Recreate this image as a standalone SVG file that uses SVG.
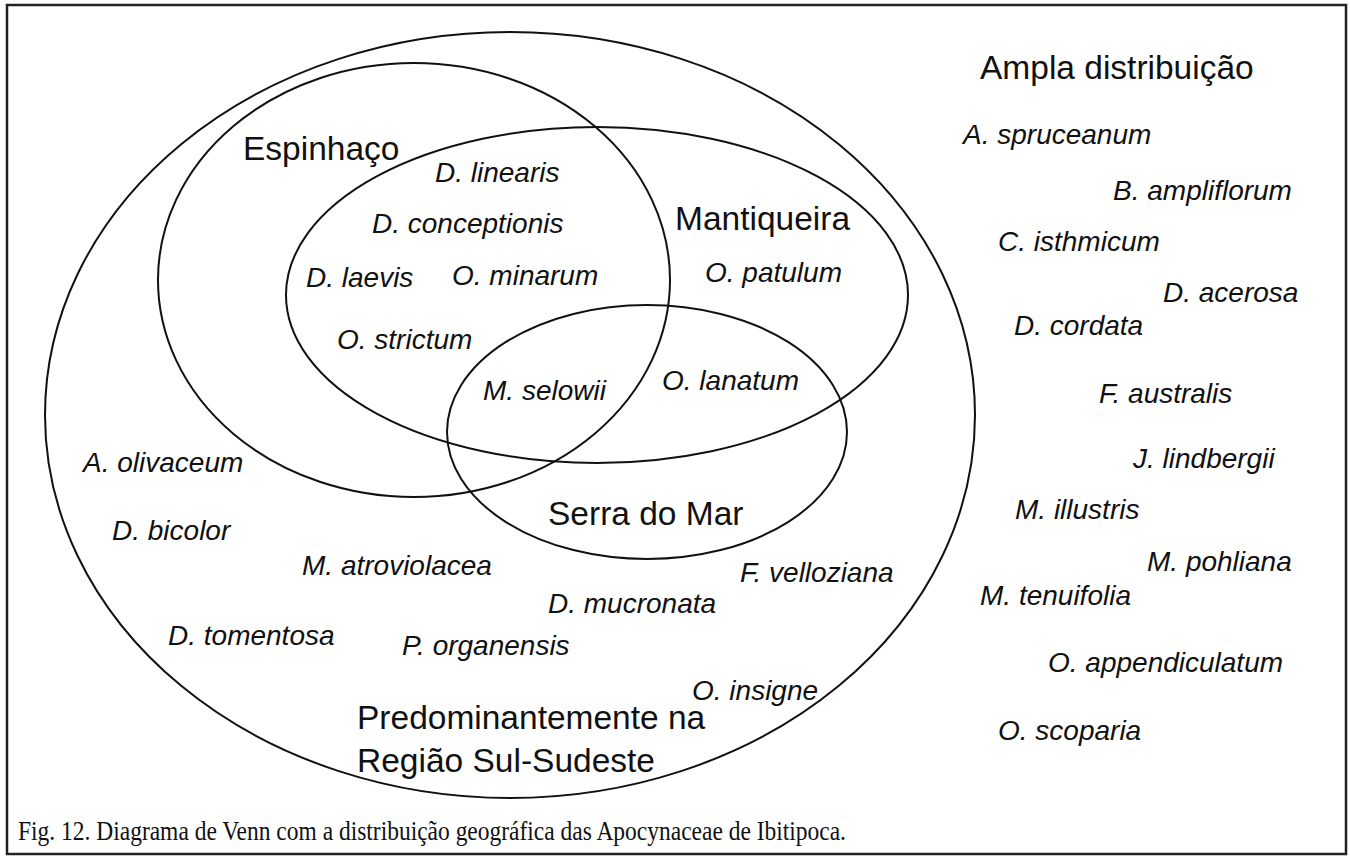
<svg xmlns="http://www.w3.org/2000/svg" width="1350" height="857" viewBox="0 0 1350 857">
<style>
.ln{fill:none;stroke:#111;stroke-width:2}
.lb{font-family:"Liberation Sans",Arial,sans-serif;font-size:33.5px;fill:#111}
.sp{font-family:"Liberation Sans",Arial,sans-serif;font-size:28px;font-style:italic;fill:#111}
.cap{font-family:"Liberation Serif","Times New Roman",serif;font-size:27px;fill:#111}
</style>
<rect x="0" y="0" width="1350" height="857" fill="#fff"/>
<rect x="7" y="5" width="1339" height="849" fill="none" stroke="#222" stroke-width="2.5"/>
<g id="sul-sudeste">
<ellipse class="ln" cx="510" cy="415" rx="465" ry="383"/>
<text class="lb" x="357" y="729">Predominantemente na</text>
<text class="lb" x="357" y="772">Região Sul-Sudeste</text>
<text class="sp" x="83" y="472">A. olivaceum</text>
<text class="sp" x="112" y="540">D. bicolor</text>
<text class="sp" x="302" y="575">M. atroviolacea</text>
<text class="sp" x="740" y="582">F. velloziana</text>
<text class="sp" x="548" y="613">D. mucronata</text>
<text class="sp" x="168" y="645">D. tomentosa</text>
<text class="sp" x="402" y="655">P. organensis</text>
<text class="sp" x="692" y="700">O. insigne</text>
</g>
<g id="espinhaco">
<ellipse class="ln" cx="414" cy="280" rx="256" ry="217"/>
<text class="lb" x="243" y="160">Espinhaço</text>
<text class="sp" x="435" y="182">D. linearis</text>
<text class="sp" x="372" y="233">D. conceptionis</text>
<text class="sp" x="306" y="287">D. laevis</text>
<text class="sp" x="452" y="285">O. minarum</text>
<text class="sp" x="337" y="349">O. strictum</text>
<text class="sp" x="483" y="400">M. selowii</text>
</g>
<g id="mantiqueira">
<ellipse class="ln" cx="597" cy="295" rx="311" ry="168"/>
<text class="lb" x="675" y="230">Mantiqueira</text>
<text class="sp" x="705" y="282">O. patulum</text>
<text class="sp" x="662" y="390">O. lanatum</text>
</g>
<g id="serra-do-mar">
<ellipse class="ln" cx="647" cy="432" rx="200" ry="127"/>
<text class="lb" x="548" y="525">Serra do Mar</text>
</g>
<g id="ampla-distribuicao">
<text class="lb" x="980" y="79">Ampla distribuição</text>
<text class="sp" x="963" y="144">A. spruceanum</text>
<text class="sp" x="1113" y="200">B. ampliflorum</text>
<text class="sp" x="998" y="251">C. isthmicum</text>
<text class="sp" x="1163" y="302">D. acerosa</text>
<text class="sp" x="1014" y="335">D. cordata</text>
<text class="sp" x="1099" y="403">F. australis</text>
<text class="sp" x="1133" y="468">J. lindbergii</text>
<text class="sp" x="1015" y="519">M. illustris</text>
<text class="sp" x="1147" y="571">M. pohliana</text>
<text class="sp" x="980" y="605">M. tenuifolia</text>
<text class="sp" x="1048" y="672">O. appendiculatum</text>
<text class="sp" x="998" y="740">O. scoparia</text>
</g>
<g id="caption">
<text class="cap" x="18" y="840" textLength="828" lengthAdjust="spacingAndGlyphs">Fig. 12. Diagrama de Venn com a distribuição geográfica das Apocynaceae de Ibitipoca.</text>
</g>
</svg>
